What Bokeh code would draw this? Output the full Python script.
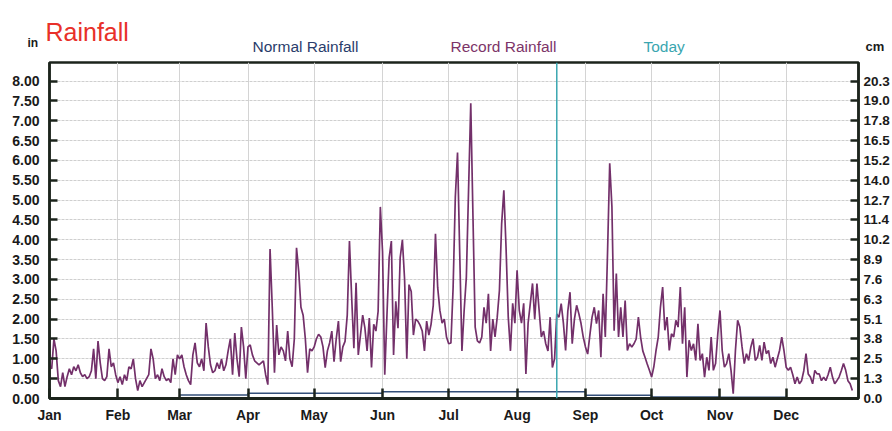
from bokeh.plotting import figure
from bokeh.models import Range1d, LinearAxis, FixedTicker, Span
from bokeh.layouts import column
from bokeh.core.properties import value
from bokeh.embed import file_html
from bokeh.resources import INLINE

# ---------------- data ----------------
MONTHS = ["Jan", "Feb", "Mar", "Apr", "May", "Jun",
          "Jul", "Aug", "Sep", "Oct", "Nov", "Dec"]
DAYS_IN_MONTH = [31, 28, 31, 30, 31, 30, 31, 31, 30, 31, 30, 31]

# record daily rainfall (inches)
REC_JAN = [0.85, 0.75, 1.5, 1.2, 0.45, 0.3, 0.65, 0.3, 0.55, 0.75, 0.6, 0.8, 0.7, 0.85, 0.65, 0.55,
           0.6, 0.5, 0.55, 0.7, 1.25, 0.5, 1.45, 0.9, 0.5, 0.45, 0.55, 1.25, 0.8, 0.9, 0.6]
REC_FEB = [0.4, 0.55, 0.35, 0.6, 0.45, 0.8, 0.75, 1.0, 0.5, 0.2, 0.45, 0.3, 0.4, 0.5, 0.6, 1.25,
           1.0, 0.5, 0.6, 0.45, 0.75, 0.55, 0.45, 0.5, 0.4, 1.0, 0.6, 1.1]
REC_MAR = [1.0, 1.1, 0.8, 0.6, 0.45, 0.35, 1.1, 1.4, 0.9, 0.8, 1.0, 0.7, 1.9, 1.3, 0.85, 0.65,
           0.7, 0.9, 0.75, 1.0, 0.7, 0.85, 1.2, 1.5, 0.6, 1.65, 1.0, 0.55, 1.8, 1.3, 0.5]
REC_APR = [1.3, 1.35, 1.1, 0.95, 0.9, 0.85, 0.9, 0.95, 0.6, 0.35, 3.77, 2.3, 0.65, 1.85, 1.1,
           1.3, 1.2, 0.95, 1.7, 1.0, 0.8, 1.5, 3.8, 3.2, 2.3, 2.1, 1.5, 0.65, 1.25, 1.2]
REC_MAY = [1.3, 1.5, 1.62, 1.55, 1.3, 0.78, 1.2, 1.4, 1.7, 0.93, 1.5, 1.95, 0.93, 1.3, 1.44, 2.1,
           3.97, 2.55, 1.27, 2.92, 1.1, 1.6, 2.1, 1.78, 1.2, 2.03, 0.78, 1.87, 1.7, 2.2, 4.83]
REC_JUN = [3.7, 0.6, 2.1, 3.55, 3.97, 1.1, 2.45, 1.77, 3.55, 4.0, 3.0, 1.0, 2.87, 2.7, 1.6,
           2.0, 1.95, 1.85, 1.7, 1.2, 1.95, 1.6, 1.87, 2.35, 4.15, 2.8, 2.22, 1.9, 2.0, 1.55]
REC_JUL = [1.38, 1.4, 2.8, 5.08, 6.2, 3.65, 1.2, 2.22, 3.06, 5.25, 7.44, 4.58, 1.8, 1.45, 1.4, 1.55,
           2.3, 1.9, 2.64, 1.2, 2.0, 1.55, 2.05, 2.73, 4.4, 5.25, 3.8, 2.05, 1.2, 2.4, 1.9]
REC_AUG = [3.23, 2.22, 1.9, 2.4, 0.62, 1.9, 2.4, 2.9, 2.0, 2.9, 2.22, 1.55, 1.7, 1.38, 1.2, 2.05,
           0.78, 1.0, 2.13, 2.05, 2.39, 1.9, 1.21, 2.2, 2.68, 1.38, 2.0, 2.35, 2.14, 1.89, 1.55]
REC_SEP = [1.3, 1.12, 1.6, 2.05, 2.3, 1.89, 2.22, 1.04, 2.64, 1.55, 3.65, 5.93, 4.83, 1.71, 3.15,
           1.55, 2.3, 1.55, 2.47, 1.21, 1.38, 1.3, 1.38, 1.5, 2.05, 1.55, 1.2, 1.04, 0.87, 0.71]
REC_OCT = [0.54, 0.8, 1.21, 1.55, 2.3, 2.81, 1.72, 2.05, 1.21, 1.63, 1.55, 1.97, 1.8, 2.81, 1.38, 2.3,
           0.54, 1.47, 1.21, 1.38, 0.96, 1.88, 0.96, 1.13, 0.54, 1.04, 0.71, 1.55, 0.71, 0.88, 1.63]
REC_NOV = [2.22, 1.21, 0.79, 0.88, 1.13, 0.71, 0.12, 1.21, 1.97, 1.8, 1.3, 0.88, 1.13, 0.96, 1.3,
           1.51, 0.96, 1.04, 1.34, 0.96, 1.42, 1.13, 1.21, 0.88, 1.04, 0.79, 1.0, 1.21, 1.55, 1.21]
REC_DEC = [0.79, 0.71, 0.79, 0.6, 0.37, 0.54, 0.37, 0.45, 0.7, 1.13, 0.62, 0.54, 0.37, 0.71, 0.62, 0.62,
           0.45, 0.54, 0.45, 0.6, 0.79, 0.54, 0.37, 0.45, 0.54, 0.7, 0.88, 0.71, 0.45, 0.37, 0.2]

# normal daily rainfall (inches), one level per month
NORMAL_MONTHLY = [0.02, 0.02, 0.09, 0.13, 0.13, 0.17, 0.17, 0.17, 0.08, 0.04, 0.03, 0.02]

TODAY_DAY = 230.0  # Aug 19

Y_TICKS_IN = [0.0, 0.5, 1.0, 1.5, 2.0, 2.5, 3.0, 3.5, 4.0, 4.5, 5.0, 5.5, 6.0, 6.5, 7.0, 7.5, 8.0]
Y_LABELS_IN = ["0.00", "0.50", "1.00", "1.50", "2.00", "2.50", "3.00", "3.50", "4.00", "4.50",
               "5.00", "5.50", "6.00", "6.50", "7.00", "7.50", "8.00"]
Y_LABELS_CM = ["0.0", "1.3", "2.5", "3.8", "5.1", "6.3", "7.6", "8.9", "10.2", "11.4",
               "12.7", "14.0", "15.2", "16.5", "17.8", "19.0", "20.3"]

HEADER_TEXTS = ["Rainfall", "in", "cm", "Normal Rainfall", "Record Rainfall", "Today"]

# ---------------- derived ----------------
record = (REC_JAN + REC_FEB + REC_MAR + REC_APR + REC_MAY + REC_JUN +
          REC_JUL + REC_AUG + REC_SEP + REC_OCT + REC_NOV + REC_DEC)
days = list(range(len(record)))
month_starts = []
acc = 0
for n in DAYS_IN_MONTH:
    month_starts.append(acc)
    acc += n

FONT = "Liberation Sans"
AXIS_COLOR = "#1c241c"
W = 892
HEAD_H = 60

# ---------------- header (title + legend texts) ----------------
h = figure(width=W, height=HEAD_H, output_backend="svg", toolbar_location=None,
           x_range=Range1d(0, W), y_range=Range1d(HEAD_H, 0),
           min_border=0, min_border_left=0, min_border_right=0,
           min_border_top=0, min_border_bottom=0)
h.frame_align = False
h.axis.visible = False
h.grid.visible = False
h.outline_line_color = None
h.background_fill_color = "#ffffff"
h.border_fill_color = "#ffffff"


def head_text(x, y, txt, color, size, style="normal", font=FONT):
    h.text(x=[x], y=[y], text=[txt], text_color=color, text_font=value(font),
           text_font_size=size, text_font_style=style, text_baseline="alphabetic",
           text_align="left")


head_text(45, 31, HEADER_TEXTS[0], "#e8302a", "25px")
head_text(27, 42, HEADER_TEXTS[1], "#1a1a1a", "12px", "bold")
head_text(865, 46, HEADER_TEXTS[2], "#1a1a1a", "13px", "bold")
head_text(252, 46, HEADER_TEXTS[3], "#2a3d6b", "15.5px")
head_text(450, 46, HEADER_TEXTS[4], "#7d3468", "15.5px")
head_text(643, 46, HEADER_TEXTS[5], "#3aa6b0", "15.5px")

# ---------------- main chart ----------------
p = figure(width=W, height=431 - HEAD_H, output_backend="svg", toolbar_location=None,
           x_range=Range1d(0, 366.8), y_range=Range1d(0, 8.47),
           min_border_left=49, min_border_right=32, min_border_top=2, min_border_bottom=33,
           background_fill_color="#ffffff", border_fill_color="#ffffff")
p.frame_align = False
p.outline_line_color = AXIS_COLOR
p.outline_line_width = 2.5

ytick = FixedTicker(ticks=Y_TICKS_IN)
xtick = FixedTicker(ticks=month_starts)

yax = p.yaxis[0]
yax.ticker = ytick
yax.major_label_overrides = {t: s for t, s in zip(Y_TICKS_IN, Y_LABELS_IN)}
xax = p.xaxis[0]
xax.ticker = xtick
xax.major_label_overrides = {d: m for d, m in zip(month_starts, MONTHS)}

rax = LinearAxis(ticker=ytick,
                 major_label_overrides={t: s for t, s in zip(Y_TICKS_IN, Y_LABELS_CM)})
p.add_layout(rax, "right")

for ax in (yax, xax, rax):
    ax.axis_line_color = AXIS_COLOR
    ax.axis_line_width = 2.5
    ax.major_tick_line_color = AXIS_COLOR
    ax.major_tick_line_width = 2.5
    ax.major_tick_in = 8
    ax.major_tick_out = 0
    ax.minor_tick_line_color = None
    ax.major_label_text_font = FONT
    ax.major_label_text_font_style = "bold"
    ax.major_label_text_font_size = "14px"
    ax.major_label_text_color = "#1a1a1a"
xax.axis_line_width = 3
xax.major_tick_in = 10
xax.major_label_standoff = 8
yax.major_label_standoff = 10
rax.major_label_standoff = 5
rax.major_label_text_font_size = "13.5px"

p.xgrid.ticker = xtick
p.ygrid.ticker = ytick
p.xgrid.grid_line_color = "#d4d4d4"
p.ygrid.grid_line_color = "#cfcfcf"
p.ygrid.grid_line_dash = "3 1"

# normal rainfall
p.step(x=month_starts + [365], y=NORMAL_MONTHLY + [NORMAL_MONTHLY[-1]], mode="after",
       line_color="#34507a", line_width=1.5)

# record rainfall
p.line(x=days, y=record, line_color="#73306a", line_width=1.7)

# today
p.add_layout(Span(location=TODAY_DAY, dimension="height", line_color="#3aa6b0", line_width=1.5))

layout = column(h, p, spacing=0)
open("out.html", "w").write(file_html(layout, INLINE))
